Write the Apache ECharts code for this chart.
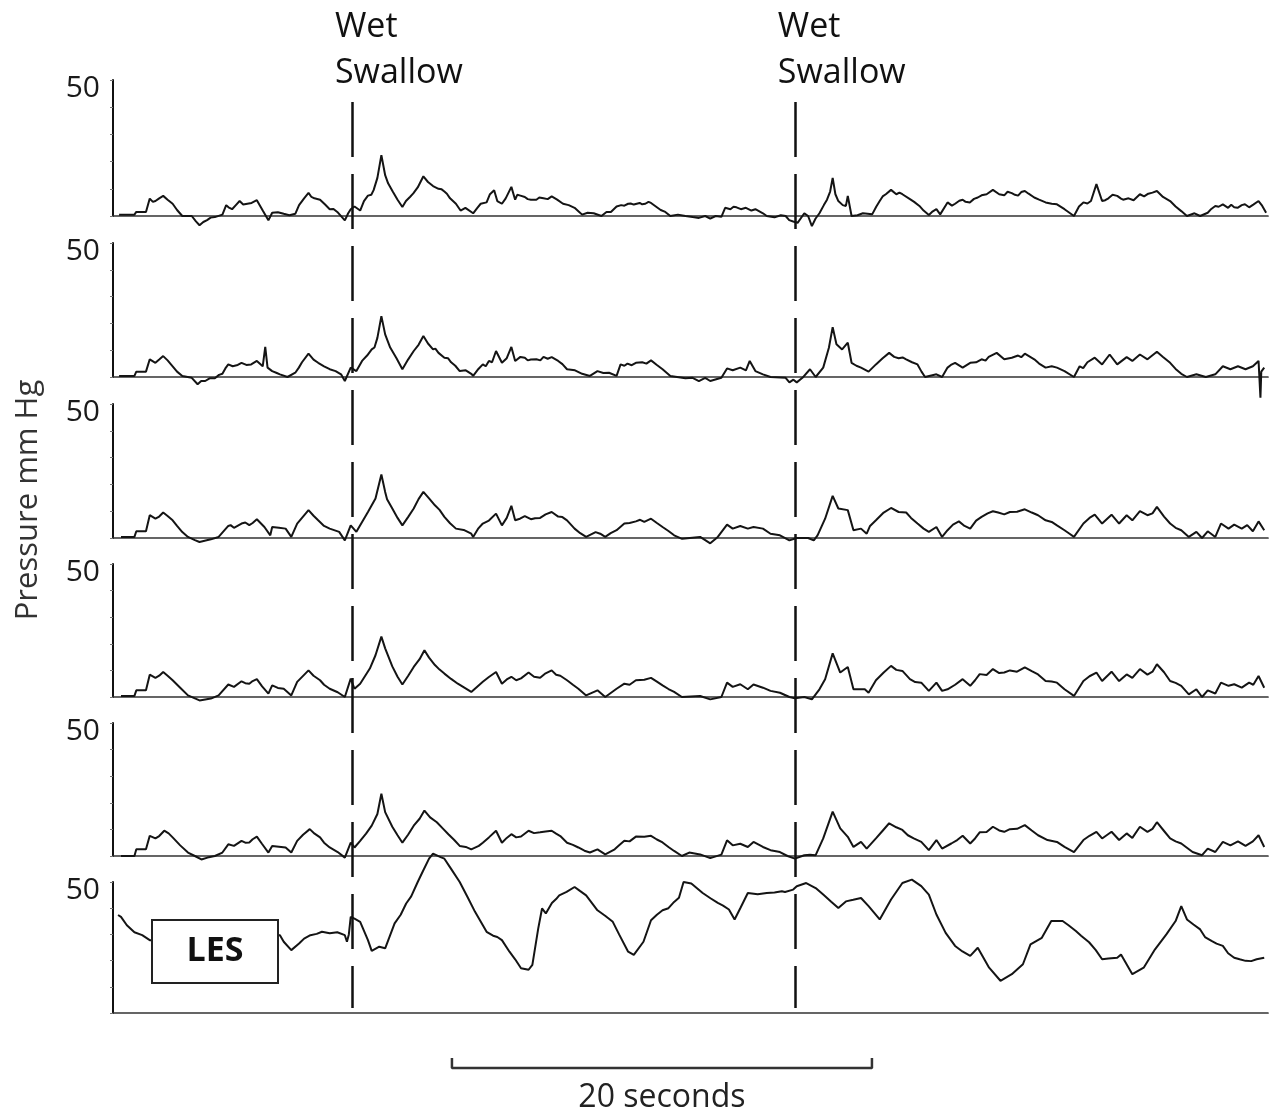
<!DOCTYPE html>
<html><head><meta charset="utf-8">
<script src="https://cdn.jsdelivr.net/npm/echarts@6/dist/echarts.min.js"></script>
<style>html,body{margin:0;padding:0;background:#fff}#c{width:1271px;height:1114px}</style>
</head><body><div id="c"></div>
<script>
// ---- data: [time (s), pressure (mm Hg)] ----
const ch1=[[0.29,0.5],[1.02,0.5],[1.11,1.5],[1.57,1.5],[1.75,6.4],[1.9,5.2],[2.02,5.5],[2.2,6.5],[2.39,7.4],[2.6,6.0],[2.84,4.5],[3.05,2.2],[3.30,0],[3.75,0],[3.95,-2],[4.12,-3.4],[4.3,-2.2],[4.48,-1.5],[4.65,-0.6],[4.85,-0.4],[5.21,0.5],[5.39,4],[5.5,3.2],[5.67,2.5],[5.85,4.0],[6.03,5.5],[6.2,4.2],[6.40,4.5],[6.6,4.8],[6.85,5.8],[7.13,2],[7.40,-1.6],[7.58,1.2],[7.85,1.4],[8.13,0.8],[8.4,0.3],[8.68,0.8],[8.86,4],[9.1,6.5],[9.31,8.5],[9.45,7],[9.59,6.5],[9.86,6],[10.1,4.2],[10.32,2.5],[10.5,2.6],[10.68,1.5],[11.04,-1.6],[11.2,1],[11.32,2.5],[11.5,3.5],[11.77,2],[11.95,5.5],[12.14,7.5],[12.3,7.8],[12.41,9.5],[12.59,14],[12.78,22.4],[12.96,15],[13.1,12],[13.32,9],[13.55,6],[13.78,3.3],[13.95,5.5],[14.14,7],[14.3,8.3],[14.51,10.5],[14.78,14.6],[15.0,12.5],[15.24,11],[15.5,10],[15.65,9.8],[15.78,9],[15.9,8.2],[16.05,6.5],[16.33,4.5],[16.55,2],[16.78,3],[17.15,1],[17.35,3],[17.51,4.5],[17.79,5],[17.95,8],[18.15,9.5],[18.3,5.5],[18.52,4.5],[18.7,6.5],[18.97,10.7],[19.15,6],[19.25,7.8],[19.4,7.5],[19.61,7],[19.75,6.2],[19.9,6],[20.16,6],[20.3,6.8],[20.5,6.5],[20.7,6.2],[20.89,7.2],[21.15,6],[21.43,4.5],[21.7,4],[21.98,3],[22.2,1.5],[22.34,0.5],[22.6,1.2],[22.89,1],[23.26,0],[23.5,1.5],[23.71,1.5],[23.98,3.5],[24.2,4],[24.35,3.8],[24.53,4.5],[24.65,4.6],[24.8,4.2],[25.08,4.8],[25.2,4.3],[25.35,4.5],[25.5,5.2],[25.62,4.8],[25.85,3.5],[26.08,2.2],[26.3,1.5],[26.54,0],[26.9,0.5],[27.26,0],[27.6,-0.4],[27.9,-0.7],[28.2,0],[28.44,-1],[28.7,0],[28.97,-0.3],[29.15,3],[29.4,2.5],[29.55,3.4],[29.69,3.2],[29.9,2.5],[30.14,3],[30.4,2],[30.59,2.5],[30.95,1],[31.13,0],[31.5,-0.5],[31.8,0.3],[32.03,0],[32.2,-1.5],[32.39,-2],[32.6,-2.5],[32.92,1],[33.1,0],[33.28,-3.7],[33.45,-1],[33.64,1],[33.85,4],[34.0,6],[34.15,9],[34.27,14],[34.4,8],[34.54,5.5],[34.75,4],[34.9,3.7],[34.99,7.4],[35.17,0],[35.45,0.3],[35.71,1],[36.15,0.6],[36.35,3.5],[36.51,5.5],[36.65,7.2],[36.8,8],[37.05,9.6],[37.3,8],[37.45,8.6],[37.59,8],[37.95,6.2],[38.15,5.2],[38.4,3.7],[38.6,2],[38.85,0.4],[39.0,1.5],[39.21,2.5],[39.39,0.6],[39.74,5],[39.95,3.8],[40.1,4.5],[40.3,5.6],[40.46,6],[40.6,5.2],[40.8,5],[41.0,6.3],[41.18,6.8],[41.36,7.6],[41.6,8],[41.9,9.6],[42.2,8],[42.44,7.6],[42.6,8.9],[42.8,8.4],[42.95,7.8],[43.1,7.5],[43.25,8.8],[43.42,9.2],[43.6,8.2],[43.87,6.8],[44.1,6],[44.41,5],[44.7,4.5],[44.95,4.3],[45.31,2.5],[45.76,0],[46.0,3.5],[46.21,5],[46.4,4.6],[46.57,5.5],[46.83,11.7],[47.1,5.5],[47.25,5.8],[47.4,6.5],[47.6,7.8],[47.82,7.4],[48.0,6.4],[48.1,6],[48.36,6.5],[48.6,5.8],[48.9,8],[49.1,7.2],[49.3,8.2],[49.5,8.6],[49.71,9.2],[50.0,7],[50.34,5.5],[50.6,3.5],[50.87,1.8],[51.14,0],[51.5,1],[51.77,0],[52.13,1.2],[52.3,2.6],[52.49,3.7],[52.65,3.4],[52.85,4.3],[53.1,3],[53.25,4.1],[53.39,3.2],[53.55,3.0],[53.75,4],[53.9,4.3],[54.1,3.2],[54.3,4.2],[54.55,5.5],[54.7,4],[54.91,1.2]];
const ch2=[[0.29,0.4],[1.02,0.4],[1.11,2],[1.57,2],[1.75,6.6],[2.02,5.3],[2.2,6.5],[2.39,7.8],[2.6,6.2],[2.84,4],[3.05,2],[3.30,0.4],[3.75,-0.3],[4.03,-2.7],[4.2,-1.5],[4.39,-1.5],[4.6,-0.5],[4.85,-0.5],[5.05,0.8],[5.21,1.2],[5.35,3.2],[5.49,4.7],[5.7,4],[5.94,4.5],[6.12,5.3],[6.35,4.5],[6.58,4.7],[6.85,6],[7.13,4],[7.25,11.2],[7.36,3.5],[7.58,2.2],[7.8,1.5],[7.95,1],[8.31,0],[8.68,1.6],[8.85,3.5],[9.0,5.5],[9.31,8.7],[9.55,6.5],[9.77,5.3],[10.05,4],[10.32,2.9],[10.6,2.2],[10.86,1],[11.04,-1.5],[11.32,3.5],[11.59,2.2],[11.86,6],[12.1,8],[12.32,10.3],[12.45,11],[12.59,14.6],[12.78,22.7],[12.96,15.9],[13.2,11],[13.5,7],[13.78,2.9],[14.05,6.5],[14.32,9.7],[14.55,12],[14.78,15.3],[15.0,12.5],[15.24,10.3],[15.35,10.6],[15.5,9],[15.78,7.2],[15.95,7],[16.1,5.5],[16.3,4.2],[16.51,2.2],[16.8,2.5],[17.06,1.2],[17.15,0.4],[17.4,3],[17.61,4.7],[17.75,4],[17.9,6],[18.05,5.5],[18.24,9.7],[18.52,5.3],[18.75,7],[18.97,11.2],[19.15,6],[19.4,7.5],[19.61,7.2],[19.75,6.2],[19.9,6.5],[20.16,6.6],[20.35,6.2],[20.5,7.5],[20.7,6.8],[20.89,7.4],[21.2,6],[21.4,4.8],[21.62,2.9],[22.0,2.5],[22.34,1.2],[22.71,0.4],[23.07,2.2],[23.35,1.5],[23.62,1.6],[23.98,0.4],[24.17,4.7],[24.35,4.2],[24.5,5],[24.7,4.4],[24.9,5.3],[25.2,5.5],[25.4,5.0],[25.62,6.2],[25.9,4.5],[26.17,2.9],[26.54,0.4],[27.26,-0.5],[27.6,-0.3],[27.9,-1.5],[28.2,-0.3],[28.44,-1.5],[28.97,-0.3],[29.24,3.2],[29.51,2.5],[29.87,3.5],[30.14,2.5],[30.32,6],[30.59,2.2],[30.95,1],[31.31,0],[32.03,-0.3],[32.21,-2],[32.4,-1],[32.56,-2],[32.83,-0.3],[33.19,2.9],[33.46,0],[33.82,3.5],[34.09,10.9],[34.27,18.6],[34.45,12.2],[34.72,10.3],[34.99,12.8],[35.17,5.3],[35.4,4.2],[35.62,3.5],[35.98,2],[36.33,4.7],[36.65,7],[36.96,9],[37.2,7.5],[37.41,7],[37.6,7.3],[37.77,6.6],[38.05,5.5],[38.31,4.7],[38.5,2],[38.67,0],[39.21,1],[39.48,0],[39.74,3.5],[39.9,4.5],[40.1,5.3],[40.46,3.5],[40.82,5.3],[41.1,5.5],[41.36,6.6],[41.55,6.1],[41.7,7.5],[42.08,9],[42.44,6.6],[42.8,7.2],[43.1,8],[43.25,7.4],[43.42,8.7],[43.87,6.6],[44.1,5],[44.41,3.5],[44.7,4],[44.95,3.5],[45.31,2.2],[45.76,0],[46.03,4],[46.2,3.3],[46.4,5.5],[46.75,7.2],[47.1,4.7],[47.46,8.4],[47.82,4.7],[48.27,7.4],[48.54,6],[48.9,8.4],[49.26,6.6],[49.71,9.4],[50.0,7.5],[50.34,5.3],[50.6,3],[50.87,1.2],[51.14,0],[51.59,1],[52.04,0],[52.49,1],[52.85,4],[53.21,2.9],[53.57,4],[53.93,2.9],[54.28,4],[54.55,6],[54.64,-7.7],[54.68,2],[54.82,3.5]];
const ch3=[[0.38,0.4],[1.02,0.4],[1.11,2.5],[1.57,2.5],[1.75,8.5],[2.02,7.2],[2.2,8],[2.39,9.5],[2.6,8.2],[2.84,6.6],[3.05,4.5],[3.30,2.2],[3.57,0.4],[3.9,-0.8],[4.12,-1.5],[4.66,-0.5],[5.03,0.4],[5.49,4.5],[5.6,4.8],[5.76,3.8],[6.12,5.4],[6.3,5.8],[6.49,4.8],[6.65,5.6],[6.85,7],[7.21,4.1],[7.49,1],[7.58,4.1],[7.9,3.8],[8.22,3.5],[8.49,0.4],[8.77,5.4],[9.31,10.4],[9.55,8.3],[9.77,6.6],[10.05,4.5],[10.32,3.5],[10.77,2.3],[11.04,-0.9],[11.32,4.7],[11.59,2.3],[12.14,9.7],[12.5,14.7],[12.78,23.7],[12.96,17.2],[13.05,14.5],[13.3,11],[13.55,7.5],[13.78,4.7],[14.05,7.8],[14.32,11],[14.55,14.5],[14.78,17.2],[15.05,14.8],[15.33,12.2],[15.55,10.5],[15.78,7.9],[16.05,5.5],[16.33,3.5],[16.7,3],[17.06,1.6],[17.15,0.4],[17.4,3.6],[17.61,5.4],[17.9,6.5],[18.24,9.1],[18.52,4.7],[18.75,7.5],[18.97,12],[19.15,6.6],[19.38,7.2],[19.61,8.2],[19.9,7],[20.1,7.4],[20.34,7.5],[20.6,8.8],[20.89,9.7],[21.2,8],[21.4,7.8],[21.62,6.6],[21.98,3.5],[22.25,1.8],[22.53,0.4],[22.98,2.2],[23.2,1.6],[23.44,0.4],[23.7,1.8],[23.98,2.9],[24.35,5.4],[24.6,5.6],[24.9,6.2],[25.1,6.8],[25.3,6],[25.62,7.2],[25.9,5.6],[26.17,4.1],[26.45,2.6],[26.72,1],[27.1,-0.3],[27.96,0.4],[28.44,-2],[28.8,0.4],[29.24,5],[29.51,3.5],[29.87,4.5],[30.23,3.5],[30.5,4.1],[30.95,3.5],[31.31,1.6],[31.76,1],[32.21,-0.9],[32.56,0],[33.1,0],[33.37,-0.9],[33.55,1],[33.91,7.2],[34.27,15.7],[34.54,11],[34.99,10.4],[35.26,2.9],[35.62,3.5],[35.89,1.6],[36.05,4.5],[36.33,6.6],[36.7,9.5],[37.05,11.2],[37.41,9.7],[37.77,9.5],[38.0,7.5],[38.31,5.4],[38.6,3.5],[38.85,2.3],[39.21,4.1],[39.48,0.4],[39.74,2.9],[40.0,5],[40.28,6.2],[40.55,4.5],[40.82,3.5],[41.1,6.5],[41.36,7.9],[41.65,9.2],[41.9,10],[42.15,9.5],[42.44,8.8],[42.71,9.7],[43.05,9.8],[43.42,10.7],[43.75,9.5],[44.05,8.5],[44.41,6.6],[44.7,6],[44.95,4.7],[45.31,2.9],[45.55,1.6],[45.76,0.4],[46.21,5.4],[46.5,7.5],[46.75,8.7],[47.1,5.4],[47.55,8.7],[47.91,5.4],[48.27,8.5],[48.54,6.6],[48.9,10],[49.26,8.5],[49.5,9.2],[49.71,11.6],[50.05,8],[50.34,5.4],[50.6,3.8],[50.87,2.9],[51.23,0.4],[51.59,2.3],[51.86,0],[52.13,2.5],[52.49,0.4],[52.76,5.4],[53.12,3.5],[53.39,5],[53.75,3.5],[54.01,4.8],[54.28,2.5],[54.55,6.2],[54.82,2.9]];
const ch4=[[0.38,0.4],[1.02,0.4],[1.11,2.5],[1.57,2.5],[1.75,8.4],[2.02,7.2],[2.2,8],[2.39,9.4],[2.6,8],[2.84,6.3],[3.2,3.5],[3.57,0.6],[4.12,-1.3],[4.66,-0.6],[5.03,0.6],[5.49,4.7],[5.76,3.8],[6.12,5.9],[6.3,5.2],[6.49,5],[6.65,6],[6.85,6.7],[7.1,4],[7.4,1.3],[7.58,4.4],[7.85,3.4],[8.13,3.1],[8.49,0.6],[8.77,5.7],[9.31,10],[9.55,8],[9.86,6.3],[10.05,4.6],[10.32,3.1],[10.7,1.8],[11.04,0],[11.32,6.9],[11.5,3.1],[11.77,5],[12.23,10.7],[12.5,15.7],[12.78,22.7],[12.96,18.3],[13.3,11.5],[13.55,7.6],[13.78,4.7],[14.05,7.9],[14.32,11.3],[14.6,14.2],[14.83,17.6],[15.05,14.8],[15.33,12],[15.55,10.3],[15.78,8.8],[16.1,6.8],[16.42,5],[16.75,3.4],[17.06,1.9],[17.33,3.8],[17.61,5.7],[17.9,7.5],[18.24,9.4],[18.52,5],[18.75,6.6],[18.97,7.6],[19.2,6.3],[19.43,7],[19.79,9.2],[20.05,7.6],[20.34,7.2],[20.6,8.9],[20.89,10],[21.1,8.4],[21.3,8],[21.62,6.3],[21.9,4.6],[22.16,3.1],[22.53,0.6],[23.07,2.5],[23.44,0],[23.98,3.1],[24.35,5],[24.6,4.6],[24.9,6.3],[25.3,6.5],[25.62,7.2],[25.9,5.8],[26.17,4.4],[26.45,3],[26.72,1.9],[27.09,0],[27.96,0.4],[28.44,-0.9],[28.97,0],[29.24,5.4],[29.51,3.8],[29.87,4.8],[30.23,2.9],[30.5,4.7],[30.95,3.5],[31.31,2.3],[31.76,1.6],[32.21,0],[32.47,-0.5],[32.92,0],[33.28,-0.9],[33.64,2.9],[33.91,6.7],[34.27,16.4],[34.63,9.2],[34.99,11.3],[35.26,2.9],[35.8,2.9],[35.98,1.6],[36.33,6.3],[36.7,9.2],[37.05,11.7],[37.3,10.2],[37.59,9.8],[37.95,6.7],[38.2,5.6],[38.49,5.4],[38.85,2.3],[39.21,5.4],[39.48,2.3],[39.74,2.9],[40.1,4.6],[40.46,6.7],[40.82,4.2],[41.05,6.3],[41.27,8.6],[41.6,8.3],[41.9,10.5],[42.2,9],[42.44,9.2],[42.71,10],[43.05,9.5],[43.42,11.1],[43.75,9.7],[44.05,8.5],[44.41,6],[44.7,5.8],[44.95,5.4],[45.31,2.9],[45.76,0.4],[46.21,6],[46.5,7.8],[46.83,9.2],[47.1,6],[47.55,9.5],[47.91,6],[48.27,8.5],[48.54,7.2],[48.9,10.5],[49.26,8.4],[49.5,9.5],[49.71,12.3],[50.05,9.3],[50.34,6],[50.6,5.3],[50.87,4.2],[51.23,1],[51.59,2.9],[51.86,0],[52.13,2.5],[52.49,1.3],[52.76,5.4],[53.12,4.2],[53.39,4.8],[53.75,3.5],[54.1,5.4],[54.3,4.6],[54.55,7.9],[54.82,3.5]];
const ch5=[[0.38,0],[1.02,0],[1.11,2.5],[1.57,2.5],[1.75,7.6],[2.02,6.6],[2.2,7.5],[2.44,9.5],[2.65,8.5],[2.84,7],[3.2,4],[3.57,1.3],[3.9,0],[4.21,-1.3],[4.5,-0.6],[4.85,0],[5.21,1.3],[5.49,4.4],[5.76,3.8],[6.12,5.7],[6.3,5],[6.49,5.1],[6.65,6.3],[6.85,7.3],[7.1,4.5],[7.4,1.3],[7.58,3.8],[7.9,3.5],[8.22,3.2],[8.49,1.3],[8.77,5.7],[9.05,8],[9.37,10.1],[9.6,8.4],[9.86,7],[10.05,5],[10.32,3.2],[10.7,1.5],[11.04,-0.6],[11.32,5],[11.5,3.2],[11.77,5.7],[12.05,8.4],[12.32,11.4],[12.59,15.8],[12.78,23.4],[12.96,16.5],[13.3,11],[13.55,7.8],[13.78,5],[14.05,8],[14.32,11.4],[14.6,14],[14.83,17.1],[15.1,14.5],[15.42,12.7],[15.7,10.4],[15.97,8.2],[16.25,6],[16.51,3.8],[16.8,3.4],[17.06,2.5],[17.42,3.8],[17.61,5],[17.9,7],[18.24,9.5],[18.52,5],[18.75,6.8],[18.97,8.2],[19.2,7],[19.43,7.3],[19.79,9.5],[20.05,8.6],[20.34,8.9],[20.6,9.2],[20.89,9.5],[21.1,8.4],[21.3,7.5],[21.62,5],[21.9,4.2],[22.16,3.2],[22.45,2],[22.71,1.3],[23.07,2.5],[23.44,0.6],[23.89,2.5],[24.1,4],[24.35,5.7],[24.6,5.5],[24.9,7.3],[25.3,7.2],[25.62,7.6],[25.9,6.2],[26.17,5.1],[26.45,3.4],[26.72,1.9],[27.09,0],[27.44,1.3],[27.96,0.6],[28.44,-0.8],[28.97,0.5],[29.24,5.9],[29.51,4],[29.87,4.6],[30.23,3.4],[30.5,5.3],[30.95,3.4],[31.31,2.2],[31.76,1.5],[32.12,0],[32.47,-1],[32.92,0.3],[33.19,0.5],[33.46,0.3],[33.82,6.6],[34.27,16.7],[34.63,10.4],[34.99,7.2],[35.26,3.4],[35.62,5.3],[35.89,2.8],[36.33,6.6],[36.65,9.5],[36.96,12.3],[37.3,10.8],[37.59,9.8],[37.85,7.8],[38.13,6.6],[38.49,5.3],[38.85,2.2],[39.21,6],[39.48,2.8],[39.92,4.7],[40.2,6],[40.46,7.6],[40.82,4.7],[41.05,6.6],[41.27,8.9],[41.6,9],[41.9,11],[42.2,9.6],[42.44,9.1],[42.71,10.1],[43.05,10.2],[43.42,11.6],[43.75,9.6],[44.05,7.8],[44.5,6],[44.95,5.3],[45.31,3.4],[45.76,1.5],[46.21,6],[46.5,7.6],[46.83,9.1],[47.1,6.6],[47.55,9.1],[47.91,6],[48.27,8.5],[48.54,6.8],[48.9,11],[49.26,9.1],[49.5,10.2],[49.71,12.7],[50.05,9.4],[50.34,6.6],[50.6,5.5],[50.87,4.7],[51.41,1.5],[51.86,0.3],[52.13,2.8],[52.49,1.5],[52.85,5.3],[53.21,4],[53.57,5.5],[53.93,3.8],[54.28,5.5],[54.55,7.8],[54.82,3.4]];
const chLES=[[0.24,37.4],[0.38,36.7],[0.66,33.5],[1.02,30.8],[1.39,29.7],[1.75,27.8],[1.93,27.8],[3.0,28.5],[4.5,29],[6.0,29.5],[7.5,30],[7.95,29.7],[8.13,27.2],[8.49,24],[8.86,26.5],[9.1,28.4],[9.4,29.7],[9.7,30.2],[9.95,31],[10.32,30.4],[10.68,30.8],[11.04,29.7],[11.14,27.2],[11.23,30],[11.32,36.7],[11.5,36],[11.77,34.8],[12.14,27.8],[12.32,23.7],[12.68,25.3],[12.96,24.7],[13.41,34.2],[13.7,37.5],[13.96,41.8],[14.2,44.5],[14.51,50],[14.75,54],[15.05,58.9],[15.24,60.8],[15.6,59.5],[15.78,58.9],[16.1,55],[16.51,50],[16.9,44],[17.24,38.6],[17.79,31],[18.1,29.5],[18.3,29],[18.52,27.8],[18.88,23.4],[19.15,20.5],[19.43,17.1],[19.79,16.5],[19.97,18.4],[20.25,32.3],[20.43,39.9],[20.61,38],[20.9,42],[21.1,43.5],[21.25,44.9],[21.6,46.2],[21.98,48.1],[22.25,46.5],[22.53,44.9],[23.07,39.2],[23.45,37],[23.8,34.8],[24.1,30],[24.53,23.4],[24.8,22.2],[25.26,27.2],[25.62,35.4],[25.9,37.5],[26.17,39.2],[26.45,40],[26.72,42.4],[26.95,44],[27.17,50],[27.54,49.4],[28.08,45.8],[28.45,43.8],[28.8,42],[29.05,41],[29.33,39.5],[29.6,35.7],[29.87,40],[30.23,45.8],[30.7,45.3],[31.13,45.8],[31.5,46],[31.85,46.5],[32.0,46.2],[32.39,47.1],[32.56,48.4],[33.01,49.6],[33.46,47.7],[33.82,45.2],[34.2,42.5],[34.54,40.1],[34.9,42.6],[35.25,43.2],[35.62,43.9],[35.98,40.8],[36.51,35.7],[37.05,43.3],[37.59,49.6],[38.04,50.9],[38.49,48.4],[38.85,45.2],[39.21,37.6],[39.65,30.6],[40.1,25.6],[40.45,23.5],[40.82,21.8],[41.18,24.9],[41.72,17.3],[42.26,12.3],[42.8,14.8],[43.33,18.6],[43.69,26.2],[44.23,28.7],[44.68,35.1],[45.22,35.1],[45.5,33.5],[45.85,31.3],[46.1,29.5],[46.48,27],[46.8,24],[47.1,20.5],[47.4,20.8],[47.82,21.1],[48.0,22.3],[48.54,14.8],[49.08,17.3],[49.62,24.3],[50.16,30],[50.6,35.1],[50.87,40.8],[51.14,35.7],[51.45,33.8],[51.77,31.9],[52.0,29],[52.31,27.5],[52.55,26.5],[52.85,25.6],[53.1,22.8],[53.39,21.1],[53.65,20.5],[53.93,19.9],[54.2,19.8],[54.46,20.5],[54.82,21.1]];
const swallowTimes=[11.38,32.47];
const swallowLabel='Wet\nSwallow';
const scaleBarTimes=[16.14,36.14];
const scaleBarLabel='20 seconds';
const yTopLabelValue=50;
const yAxisTitle='Pressure mm Hg';
const lesLabel='LES';

// ---- layout ----
const timeMin=0, timeMax=55;
const plotLeft=113, plotWidth=1155;
const panelTops=[80,243,404,564,723,882];
const panelBottoms=[216,377,538,697,856,1013];
const FONT='"Open Sans", "Noto Sans", sans-serif';

const channels=[ch1,ch2,ch3,ch4,ch5,chLES];
const chart=echarts.init(document.getElementById('c'),null,{renderer:'canvas'});
const grids=[],xAxes=[],yAxes=[],series=[];
channels.forEach((d,i)=>{
  grids.push({left:plotLeft,width:plotWidth,top:panelTops[i],height:panelBottoms[i]-panelTops[i]});
  xAxes.push({type:'value',gridIndex:i,min:timeMin,max:timeMax,
    axisLine:{show:true,onZero:false,lineStyle:{color:'#333',width:1.7}},
    axisTick:{show:false},axisLabel:{show:false},splitLine:{show:false}});
  yAxes.push({type:'value',gridIndex:i,min:0,max:50,interval:10,
    axisLine:{show:true,lineStyle:{color:'#111',width:2}},
    axisTick:{show:true,length:3,lineStyle:{color:'#777',width:1}},
    axisLabel:{show:true,formatter:v=>v===yTopLabelValue?String(v):'',fontFamily:FONT,fontSize:30,color:'#1a1a1a',margin:13,verticalAlign:'top',lineHeight:16},
    splitLine:{show:false}});
  series.push({type:'line',xAxisIndex:i,yAxisIndex:i,data:d,showSymbol:false,symbol:'none',clip:false,
    lineStyle:{color:'#141414',width:2},z:3});
});
// swallow marker grid
grids.push({left:plotLeft,width:plotWidth,top:102,height:906});
xAxes.push({type:'value',gridIndex:6,min:timeMin,max:timeMax,show:false});
yAxes.push({type:'value',gridIndex:6,min:0,max:1,show:false});
series.push({type:'line',xAxisIndex:6,yAxisIndex:6,data:swallowTimes.map(t=>[t,0]),showSymbol:false,symbol:'none',
  lineStyle:{opacity:0},
  markLine:{silent:true,symbol:['none','none'],label:{show:false},animation:false,
    lineStyle:{color:'#111',width:2.5,type:[55,17]},
    data:swallowTimes.map(t=>[{coord:[t,1]},{coord:[t,0]}])}});
// scale bar grid
grids.push({left:plotLeft,width:plotWidth,top:1058,height:10});
xAxes.push({type:'value',gridIndex:7,min:timeMin,max:timeMax,show:false});
yAxes.push({type:'value',gridIndex:7,min:0,max:1,show:false});
series.push({type:'line',xAxisIndex:7,yAxisIndex:7,showSymbol:false,symbol:'none',clip:false,
  data:[[scaleBarTimes[0],1],[scaleBarTimes[0],0],[scaleBarTimes[1],0],[scaleBarTimes[1],1]],
  lineStyle:{color:'#333',width:2.5}});

chart.setOption({animation:false,backgroundColor:'#fff',grid:grids,xAxis:xAxes,yAxis:yAxes,series:series});

const gfx=[];
swallowTimes.forEach(t=>{
  const px=chart.convertToPixel({xAxisIndex:6},t);
  gfx.push({type:'text',x:px-17,y:4,z:10,style:{text:swallowLabel,font:'34px '+FONT,lineHeight:46,fill:'#111',textAlign:'left',textVerticalAlign:'top'}});
});
const sbMid=chart.convertToPixel({xAxisIndex:7},(scaleBarTimes[0]+scaleBarTimes[1])/2);
gfx.push({type:'text',x:sbMid,y:1098,z:10,style:{text:scaleBarLabel,font:'32px '+FONT,fill:'#222',textAlign:'center',textVerticalAlign:'middle'}});
gfx.push({type:'text',x:28,y:500,rotation:Math.PI/2,z:10,style:{text:yAxisTitle,font:'31px '+FONT,fill:'#333',textAlign:'center',textVerticalAlign:'middle'}});
gfx.push({type:'rect',z:20,shape:{x:152,y:920,width:126,height:63},style:{fill:'#fff',stroke:'#222',lineWidth:2}});
gfx.push({type:'text',z:21,x:215,y:951,style:{text:lesLabel,font:'bold 34px '+FONT,fill:'#111',textAlign:'center',textVerticalAlign:'middle'}});
chart.setOption({graphic:gfx});
</script></body></html>
